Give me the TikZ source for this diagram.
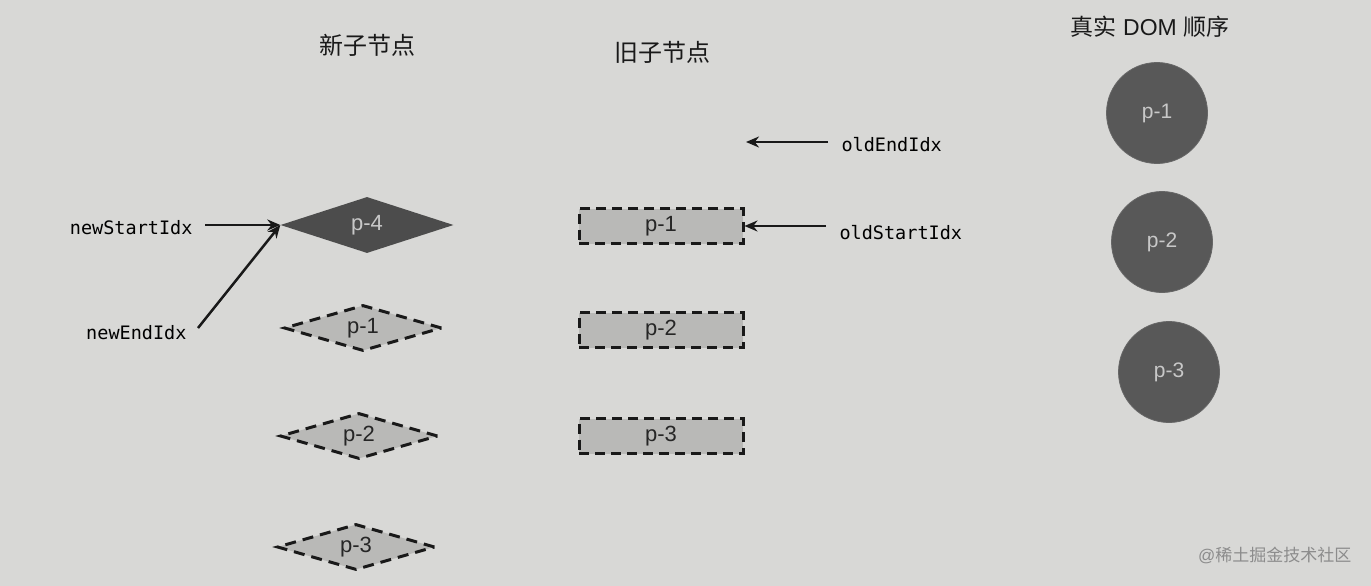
\documentclass[tikz,border=0pt]{standalone}
\usepackage{fontspec}
\setmainfont{Liberation Sans}
\newfontfamily\cjk{Noto Sans CJK SC}
\newfontfamily\codefont{DejaVu Sans Mono}
\usetikzlibrary{shapes.geometric,arrows.meta}
\definecolor{bg}{HTML}{D8D8D6}
\definecolor{lightfill}{HTML}{B9B9B7}
\definecolor{darkfill}{HTML}{4C4C4C}
\definecolor{circfill}{HTML}{585858}
\definecolor{txtlight}{HTML}{C8C8C8}
\tikzset{
  x=1pt,y=-1pt,
  hdr/.style={font=\cjk\fontsize{24}{24}\selectfont, text=black!90},
  idx/.style={font=\codefont\fontsize{18.5}{18.5}\selectfont, text=black},
  newdia/.style={diamond, aspect=3.1, draw=black!90, line width=3pt, dash pattern=on 11pt off 7pt, fill=lightfill, minimum width=158pt, minimum height=46pt, inner sep=0pt, font=\fontsize{22}{22}\selectfont, text=black!85},
  darkdia/.style={diamond, aspect=3.1, fill=darkfill, minimum width=173pt, minimum height=56pt, inner sep=0pt, font=\fontsize{22}{22}\selectfont, text=txtlight},
  oldbox/.style={rectangle, draw=black!90, line width=3pt, dash pattern=on 10pt off 6pt, fill=lightfill, minimum width=164pt, minimum height=35pt, inner sep=0pt, font=\fontsize{22}{22}\selectfont, text=black!85},
  dom/.style={circle, fill=circfill, draw=black!60, line width=0.8pt, minimum size=101pt, inner sep=0pt, font=\fontsize{21}{21}\selectfont, text=txtlight},
  arr/.style={-{Stealth[length=13pt,width=11pt]}, line width=2.5pt, black!90}
}
\begin{document}
\begin{tikzpicture}
\fill[bg] (0,0) rectangle (1371,586);
\useasboundingbox (0,0) rectangle (1371,586);

\node[hdr] (hnew) at (367,45) {新子节点};
\node[hdr] (hold) at (662,52) {旧子节点};
\node[hdr, font=\fontsize{23}{23}\selectfont] (hdom) at (1150,27) {{\cjk 真实} DOM {\cjk 顺序}};

% new children
\node[darkdia] (n4) at (367,225) {p-4};
\node[newdia] (n1) at (363,328) {p-1};
\node[newdia] (n2) at (359,436) {p-2};
\node[newdia] (n3) at (356,547) {p-3};

% old children
\node[oldbox] (o1) at (661,226) {p-1};
\node[oldbox] (o2) at (661,330) {p-2};
\node[oldbox] (o3) at (661,436) {p-3};

% real DOM
\node[dom] (d1) at (1157,113) {p-1};
\node[dom] (d2) at (1162,242) {p-2};
\node[dom] (d3) at (1169,372) {p-3};

% index labels
\node[idx, anchor=east] (nsi) at (196,228) {newStartIdx};
\node[idx, anchor=east] (nei) at (190,333) {newEndIdx};
\node[idx, anchor=west] (oei) at (838,145) {oldEndIdx};
\node[idx, anchor=west] (osi) at (836,233) {oldStartIdx};
\coordinate (oeitip) at (746,142);
\coordinate (nsistart) at (205,225);
\coordinate (neistart) at (198,328);
\coordinate (oeistart) at (828,142);
\coordinate (osistart) at (826,226);

\draw[arr] (nsistart) -- (n4.west);
\draw[arr] (neistart) -- (n4.west);
\draw[arr] (oeistart) -- (oeitip);
\draw[arr] (osistart) -- (o1.east);

\node[font=\fontsize{17}{17}\selectfont, text=black!45, anchor=east] (wm) at (1355,555) {@{\cjk 稀土掘金技术社区}};
\end{tikzpicture}
\end{document}
